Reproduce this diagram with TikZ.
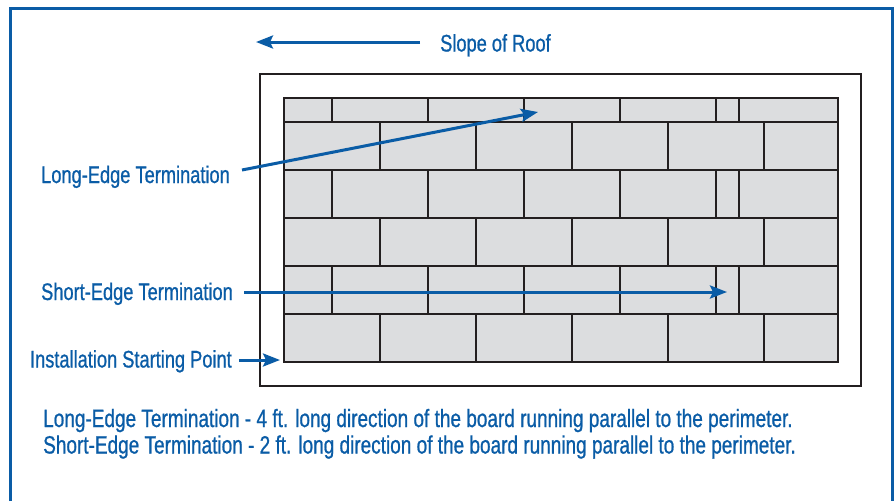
\documentclass[tikz,border=0pt]{standalone}
\usepackage{fontspec}
\setmainfont[FakeStretch=0.76, FakeBold=0.8]{Liberation Sans}
\usetikzlibrary{arrows.meta}
\definecolor{roofblue}{RGB}{10,92,166}
\definecolor{boardgray}{RGB}{220,221,223}
\definecolor{linegray}{RGB}{35,31,32}

\begin{document}
\begin{tikzpicture}[x=1pt, y=-1pt,
	brick/.style={draw=linegray, line width=2.9pt},
	callout/.style={draw=roofblue, line width=3pt, -{Stealth[length=17pt, width=13pt, inset=3pt]}},
	lbl/.style={text=roofblue, inner sep=0pt, font=\fontsize{24}{27}\selectfont},
	note/.style={lbl, font=\fontsize{25}{28}\selectfont}]
	\useasboundingbox (0,0) rectangle (894,501);
	% blue frame, open at the bottom
	\draw[roofblue, line width=3pt] (10,501) -- (10,8) -- (892,8) -- (892,501);
	% roof edge and boards
	\draw[brick] (260,74) rectangle (861,386);
	\fill[boardgray] (284,98) rectangle (838,362);
	\foreach \ya/\yb in {98/122, 170/218, 266/314}
		\foreach \x in {332, 428, 524, 620, 716, 739}
			\draw[brick] (\x,\ya) -- (\x,\yb);
	\foreach \ya/\yb in {122/170, 218/266, 314/362}
		\foreach \x in {380, 476, 572, 668, 764}
			\draw[brick] (\x,\ya) -- (\x,\yb);
	\foreach \y in {122, 170, 218, 266, 314}
		\draw[brick] (284,\y) -- (838,\y);
	\draw[brick] (284,98) rectangle (838,362);
	% arrow tips
	\coordinate (slopetip) at (256,42);
	\coordinate (longtip) at (538,112);
	\coordinate (shorttip) at (727,292);
	\coordinate (starttip) at (280,360);
	% labels
	\node[lbl, anchor=base west] (slope) at (440,51.5) {Slope of Roof};
	\node[lbl, anchor=base east] (longlbl) at (230,183) {Long-Edge Termination};
	\node[lbl, anchor=base east] (shortlbl) at (233,300) {Short-Edge Termination};
	\node[lbl, anchor=base east] (startlbl) at (232,367.5) {Installation Starting Point};
	\draw[callout] ([shift={(-20,-9.5)}]slope.base west) -- (slopetip);
	\draw[callout] ([shift={(12,-13)}]longlbl.base east) -- (longtip);
	\draw[callout] ([shift={(11,-8)}]shortlbl.base east) -- (shorttip);
	\draw[callout] ([shift={(7,-7.5)}]startlbl.base east) -- (starttip);
	% notes
	\node[note, anchor=base west] (longnote) at (43,427) {Long-Edge Termination - 4 ft. long direction of the board running parallel to the perimeter.};
	\node[note, anchor=base west] (shortnote) at (43,453.5) {Short-Edge Termination - 2 ft. long direction of the board running parallel to the perimeter.};
\end{tikzpicture}
\end{document}
